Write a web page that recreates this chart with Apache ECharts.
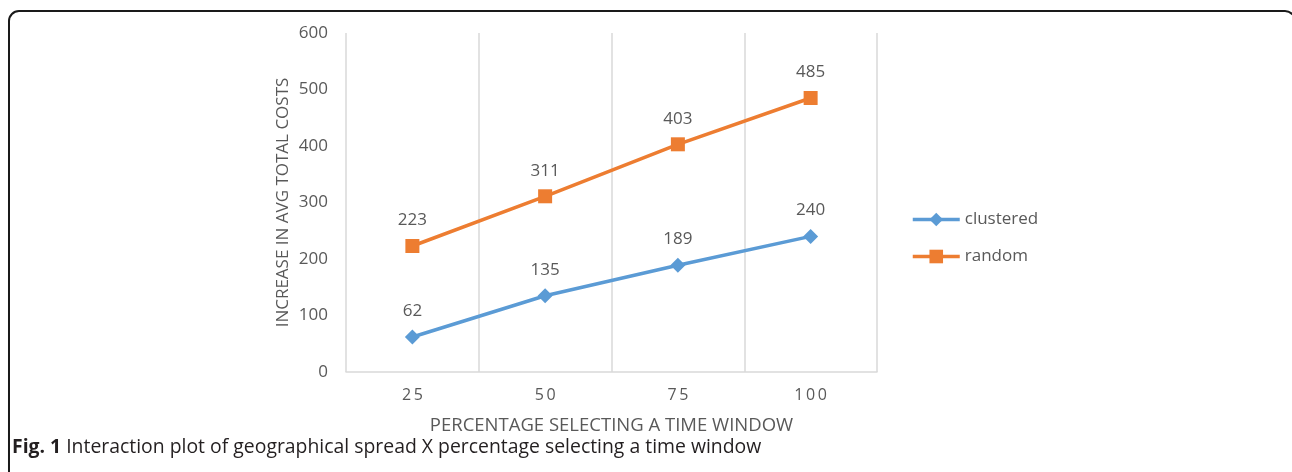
<!DOCTYPE html>
<html>
<head>
<meta charset="utf-8">
<script src="https://cdn.jsdelivr.net/npm/echarts@6/dist/echarts.min.js"></script>
<style>
  html, body { margin: 0; padding: 0; background: #fff; }
  #chart { width: 1292px; height: 472px; }
</style>
</head>
<body>
<div id="chart"></div>
<script>
// Percentage of customers selecting a time window
const categories = ['25', '50', '75', '100'];
// Increase in average total costs per geographical spread
const clustered = [62, 135, 189, 240];
const random = [223, 311, 403, 485];
const yTicks = { min: 0, max: 600, interval: 100 };

const textColor = '#595959';
const blue = '#5B9BD5';
const orange = '#ED7D31';
const fontFamily = '"Open Sans", "Noto Sans", sans-serif';

const chart = echarts.init(document.getElementById('chart'), null, { renderer: 'canvas' });

chart.setOption({
  backgroundColor: '#fff',
  animation: false,
  textStyle: { fontFamily: fontFamily },
  grid: { left: 346, right: 415, top: 33, bottom: 100, containLabel: false },
  legend: {
    orient: 'vertical',
    left: 906,
    top: 206,
    itemWidth: 47,
    itemHeight: 17,
    itemGap: 20,
    textStyle: { color: textColor, fontSize: 17, fontFamily: fontFamily },
    data: [
      { name: 'clustered', lineStyle: { width: 3.5, color: blue } },
      { name: 'random', lineStyle: { width: 3.5, color: orange } }
    ]
  },
  xAxis: {
    type: 'category',
    data: categories,
    boundaryGap: true,
    name: 'PERCENTAGE SELECTING A TIME WINDOW',
    nameLocation: 'middle',
    nameGap: 44,
    nameTextStyle: { color: textColor, fontSize: 18.5, fontFamily: fontFamily },
    axisLine: { show: true, lineStyle: { color: '#d9d9d9', width: 1.5 } },
    axisTick: { show: false },
    axisLabel: {
      color: textColor,
      fontSize: 16,
      margin: 15,
      fontFamily: fontFamily,
      formatter: v => v.split('').join('\u2009')
    },
    splitLine: { show: true, lineStyle: { color: '#d9d9d9', width: 1.5 } }
  },
  yAxis: {
    type: 'value',
    min: yTicks.min,
    max: yTicks.max,
    interval: yTicks.interval,
    name: 'INCREASE IN AVG TOTAL COSTS',
    nameLocation: 'middle',
    nameGap: 54,
    nameRotate: 90,
    nameTextStyle: { color: textColor, fontSize: 17, fontFamily: fontFamily },
    axisLine: { show: false },
    axisTick: { show: false },
    axisLabel: { color: textColor, fontSize: 17, margin: 18, fontFamily: fontFamily },
    splitLine: { show: false }
  },
  series: [
    {
      name: 'clustered',
      type: 'line',
      data: clustered,
      symbol: 'diamond',
      symbolSize: 15,
      lineStyle: { color: blue, width: 3.5 },
      itemStyle: { color: blue },
      label: {
        show: true,
        position: 'top',
        distance: 10,
        color: textColor,
        fontSize: 17,
        fontFamily: fontFamily
      }
    },
    {
      name: 'random',
      type: 'line',
      data: random,
      symbol: 'rect',
      symbolSize: 14,
      lineStyle: { color: orange, width: 3.5 },
      itemStyle: { color: orange },
      label: {
        show: true,
        position: 'top',
        distance: 10,
        color: textColor,
        fontSize: 17,
        fontFamily: fontFamily
      }
    }
  ],
  graphic: [
    {
      type: 'rect',
      silent: true,
      shape: { x: 9, y: 11, width: 1286, height: 490, r: 10 },
      style: { fill: 'none', stroke: '#1a1a1a', lineWidth: 2 }
    },
    {
      type: 'text',
      left: 12,
      top: 438,
      style: {
        text: '{b|Fig. 1} Interaction plot of geographical spread X percentage selecting a time window',
        fill: '#231f20',
        font: '19.4px ' + fontFamily,
        rich: {
          b: { fontWeight: 'bold', fontSize: 19.4, fill: '#231f20', fontFamily: fontFamily }
        }
      }
    }
  ]
});
</script>
</body>
</html>
